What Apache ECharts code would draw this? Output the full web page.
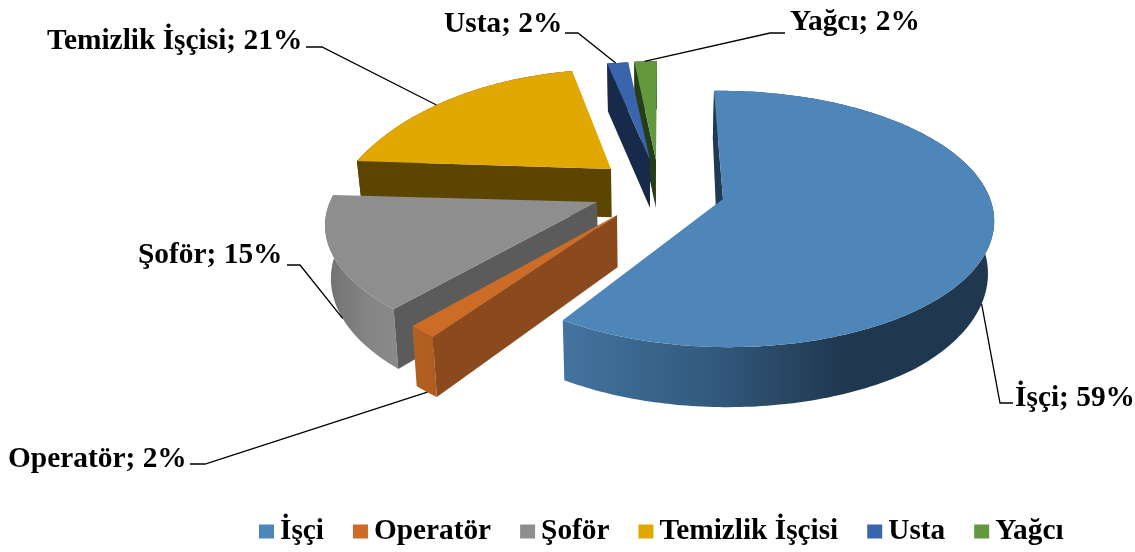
<!DOCTYPE html>
<html><head><meta charset="utf-8">
<style>html,body{margin:0;padding:0;background:#fff}#c{width:1135px;height:552px}</style>
<script src="https://cdn.jsdelivr.net/npm/echarts@6/dist/echarts.min.js"></script>
</head><body><div id="c"></div>
<script>
const categories = ['İşçi','Operatör','Şoför','Temizlik İşçisi','Usta','Yağcı'];
// shares; labels show them rounded
const shares = [59.4,1.9,14.6,20.7,1.7,1.7];
const colors = ['#4E86B9','#CC6C26','#8E8E8E','#E0A800','#3A64AC','#62993E'];

// Projection of each exploded slice of the tilted pie, plus its faces and its label layout.
const FONT = 'bold 29.4px "Liberation Serif"';
const faces = [
 {ax:723,ay:199,A:266,B:125,C:-10.4,D:-3,k:.156,m:0,wall:'#1F3A55',apexDx:-4,z:6,
  side:[[0,'#43749F'],[.35,'#32597D'],[.65,'#20384F'],[1,'#20384F']],
  t:.53,bottom:true,elbow:[[1000,403],[1013,403]],lx:1015,ly:398,align:'left'},
 {ax:617,ay:215,A:233,B:116.4,C:28.6,D:-9,k:.2,m:0,wall:'#8B4A1E',z:5,
  side:[[0,'#B4601F'],[1,'#B05C1E']],
  t:.45,bottom:true,elbow:[[205,464],[190,464]],lx:8,ly:459,align:'left'},
 {ax:597,ay:202,A:267,B:121,C:0,D:.3,k:.19,m:0,wall:'#5B5B5B',z:4,
  side:[[0,'#707070'],[.6,'#858585'],[1,'#8A8A8A']],
  t:.42,bottom:true,elbow:[[300,265],[287,265]],lx:138,ly:255,align:'left'},
 {ax:611,ay:169,A:260.7,B:142.8,C:0,D:0,k:.434,m:0,wall:'#5B4500',z:3,
  side:[[0,'#5B4500'],[1,'#5B4500']],
  t:.41,bottom:false,elbow:[[322,47],[306,47]],lx:47,ly:41,align:'left'},
 {ax:650,ay:160,A:282.8,B:140.5,C:-1,D:0,k:.434,m:0,wall:'#172A4A',z:2,
  side:[[0,'#172A4A'],[1,'#172A4A']],
  t:.4,bottom:false,elbow:[[578,33],[565,33]],lx:444,ly:24,align:'left'},
 {ax:656,ay:160,A:304.5,B:141.5,C:1.4,D:0,k:.434,m:0,wall:'#263D18',z:1,
  side:[[0,'#263D18'],[1,'#263D18']],
  t:.45,bottom:false,elbow:[[770,33],[785,33]],lx:790,ly:22,align:'left'}
];

const total = shares.reduce((a,b)=>a+b,0);
const starts = shares.map((_,i)=>shares.slice(0,i).reduce((a,b)=>a+b,0)/total*360);

function project(f,deg){
  const t=deg*Math.PI/180,s=Math.sin(t),c=Math.cos(t),d=1+f.k*c+f.m*s;
  return [f.ax+(f.A*s+f.C*c)/d, f.ay+(f.D*s-f.B*c)/d];
}
function drop(y){return 48+12*Math.max(0,Math.min(1,(y-165)/145));}
function low(p){return [p[0]+(650-p[0])*.018, p[1]+drop(p[1])];}

function makeRender(i){
  return function(params,api){
    const f=faces[i], value=api.value(0), a0=starts[i], a1=a0+value/total*360;
    const arc=[];
    const n=Math.max(4,Math.round(a1-a0));
    for(let j=0;j<=n;j++) arc.push(project(f,a0+(a1-a0)*j/n));
    const lowArc=arc.map(low);
    const apex=[f.ax,f.ay];
    const apexLow=low(apex); apexLow[0]+=(f.apexDx||0);
    const children=[];
    // outer band
    children.push({type:'polygon',shape:{points:arc.concat(lowArc.slice().reverse())},
      style:{fill:{type:'linear',x:0,y:0,x2:1,y2:0,colorStops:f.side.map(s=>({offset:s[0],color:s[1]}))}}});
    // cut wall at the starting edge
    children.push({type:'polygon',shape:{points:[apex,arc[0],lowArc[0],apexLow]},style:{fill:f.wall}});
    // top face
    children.push({type:'polygon',shape:{points:[apex].concat(arc)},style:{fill:colors[i]}});
    // leader line
    const p=project(f,a0+(a1-a0)*f.t);
    const start=f.bottom?low(p):p;
    children.push({type:'polyline',shape:{points:[start].concat(f.elbow)},style:{fill:null,stroke:'#000',lineWidth:1.3}});
    // label
    children.push({type:'text',style:{x:f.lx,y:f.ly,text:categories[i]+'; '+Math.round(value)+'%',font:FONT,fill:'#000',
      align:f.align,verticalAlign:'middle'}});
    return {type:'group',children};
  };
}

const chart=echarts.init(document.getElementById('c'),null,{renderer:'canvas'});
chart.setOption({
  animation:false,
  backgroundColor:'#fff',
  legend:{left:254,top:512,icon:'rect',itemWidth:15,itemHeight:14,itemGap:29,
    data:categories,selectedMode:false,
    textStyle:{fontFamily:'Liberation Serif',fontWeight:'bold',fontSize:29.3,color:'#000',padding:[0,0,0,1]}},
  series:categories.map((name,i)=>({
    type:'custom',name,coordinateSystem:'none',z:faces[i].z,silent:true,
    itemStyle:{color:colors[i]},
    data:[[shares[i]]],
    renderItem:makeRender(i)
  }))
});
</script></body></html>
